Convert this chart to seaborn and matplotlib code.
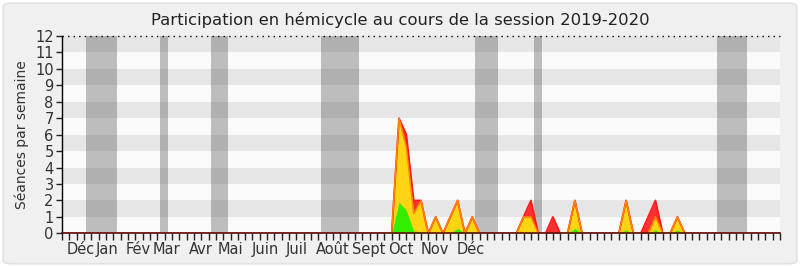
import matplotlib
matplotlib.use("Agg")
import matplotlib.pyplot as plt
from matplotlib.patches import FancyBboxPatch
import numpy as np
import pandas as pd
import seaborn as sns

# ---- data (weekly values, week index 0..98) ----
n_weeks = 99
weeks = list(range(n_weeks))

# nonzero weekly values: week -> value
presence_pts = {46: 7, 47: 6, 48: 2, 49: 2, 51: 1, 53: 1, 54: 2, 56: 1,
                63: 1, 64: 2, 67: 1, 70: 2, 77: 2, 80: 1, 81: 2, 84: 1}
participation_pts = {46: 7, 47: 5.2, 48: 1.2, 49: 2, 51: 1, 53: 1, 54: 2, 56: 1,
                     63: 1, 64: 1, 70: 2, 77: 2, 81: 1, 84: 1}
interventions_pts = {46: 1.9, 47: 1.4, 48: 0.15, 49: 0.1, 54: 0.3, 56: 0.1,
                     64: 0.1, 70: 0.3, 77: 0.2, 81: 0.2, 84: 0.2}

presence = [presence_pts.get(w, 0) for w in weeks]
participation = [participation_pts.get(w, 0) for w in weeks]
interventions = [interventions_pts.get(w, 0) for w in weeks]

# vacation periods (in weeks)
vacations = [(3.3, 7.5), (13.4, 14.5), (20.4, 22.6), (35.4, 40.6),
             (56.4, 59.5), (64.4, 65.5), (89.4, 93.5)]

month_labels = ["Déc", "Jan", "Fév", "Mar", "Avr", "Mai", "Juin", "Juil",
                "Août", "Sept", "Oct", "Nov", "Déc"]
month_pos = [2.6, 6.2, 10.4, 14.2, 18.9, 23.0, 27.7, 32.0, 36.9, 41.9, 46.3, 50.9, 55.8]

title = "Participation en hémicycle au cours de la session 2019-2020"
ylabel = "Séances par semaine"

df = pd.DataFrame({"week": weeks, "presence": presence,
                   "participation": participation, "interventions": interventions})

# ---- figure ----
sns.set_style("white")
plt.rcParams["font.family"] = ["DejaVu Sans"]

fig = plt.figure(figsize=(8, 2.67), dpi=100)
fig.patch.set_facecolor("white")
bg = FancyBboxPatch((0.004, 0.012), 0.992, 0.976, boxstyle="round,pad=0,rounding_size=0.012",
                    transform=fig.transFigure, facecolor="#f0f0f0", edgecolor="#e2e2e2",
                    linewidth=1.2, zorder=-10)
fig.patches.append(bg)

ax = fig.add_axes([0.0775, 0.126, 0.8975, 0.739])
ax.set_facecolor("#fafafa")

# horizontal stripes
for k in range(0, 12, 2):
    ax.axhspan(k + 1, k + 2, color="#e6e6e6", zorder=0, lw=0)

# vacation bands
for a, b in vacations:
    ax.axvspan(a, b, color="#333333", alpha=0.3, zorder=1, lw=0)

x = df["week"].to_numpy()
ax.fill_between(x, 0, df["presence"], color="#ff3030", lw=0, zorder=2)
ax.fill_between(x, 0, df["participation"], color="#ffd414", lw=0, zorder=3)
ax.fill_between(x, 0, df["interventions"], color="#33ee00", lw=0, zorder=4)
sns.lineplot(data=df, x="week", y="presence", ax=ax, color="#ff1a1a", lw=1.3, zorder=3)
sns.lineplot(data=df, x="week", y="participation", ax=ax, color="#ff8a00", lw=1.0, zorder=3.5)

ax.set_xlim(0, n_weeks - 1)
ax.set_ylim(0, 12)

# top dotted line
ax.axhline(12, color="black", lw=1.0, ls=(0, (1, 3)), zorder=6, clip_on=False)

for s in ["top", "right"]:
    ax.spines[s].set_visible(False)
ax.spines["left"].set_color("black")
ax.spines["left"].set_linewidth(1.0)
ax.spines["bottom"].set_color("#5a1010")
ax.spines["bottom"].set_linewidth(1.2)
ax.spines["left"].set_zorder(7)
ax.spines["bottom"].set_zorder(7)

ax.set_yticks(range(0, 13))
ax.set_yticklabels([str(v) for v in range(0, 13)], fontsize=10.5, color="#333333")
ax.set_xticks(weeks)
ax.set_xticklabels([])
ax.tick_params(axis="both", direction="out", length=5, width=1, color="#222222", pad=2,
               bottom=True, left=True)
ax.tick_params(axis="y", length=4)

for lab, pos in zip(month_labels, month_pos):
    ax.text(pos, -0.55, lab, ha="center", va="top", fontsize=10.5, color="#333333",
            transform=ax.transData, clip_on=False)

ax.set_xlabel("")
ax.set_ylabel(ylabel, fontsize=10, color="#333333", labelpad=4)
fig.text(0.5, 0.925, title, ha="center", va="center", fontsize=11.8, color="#222222")

fig.savefig("out.png", dpi=100, facecolor=fig.get_facecolor())
